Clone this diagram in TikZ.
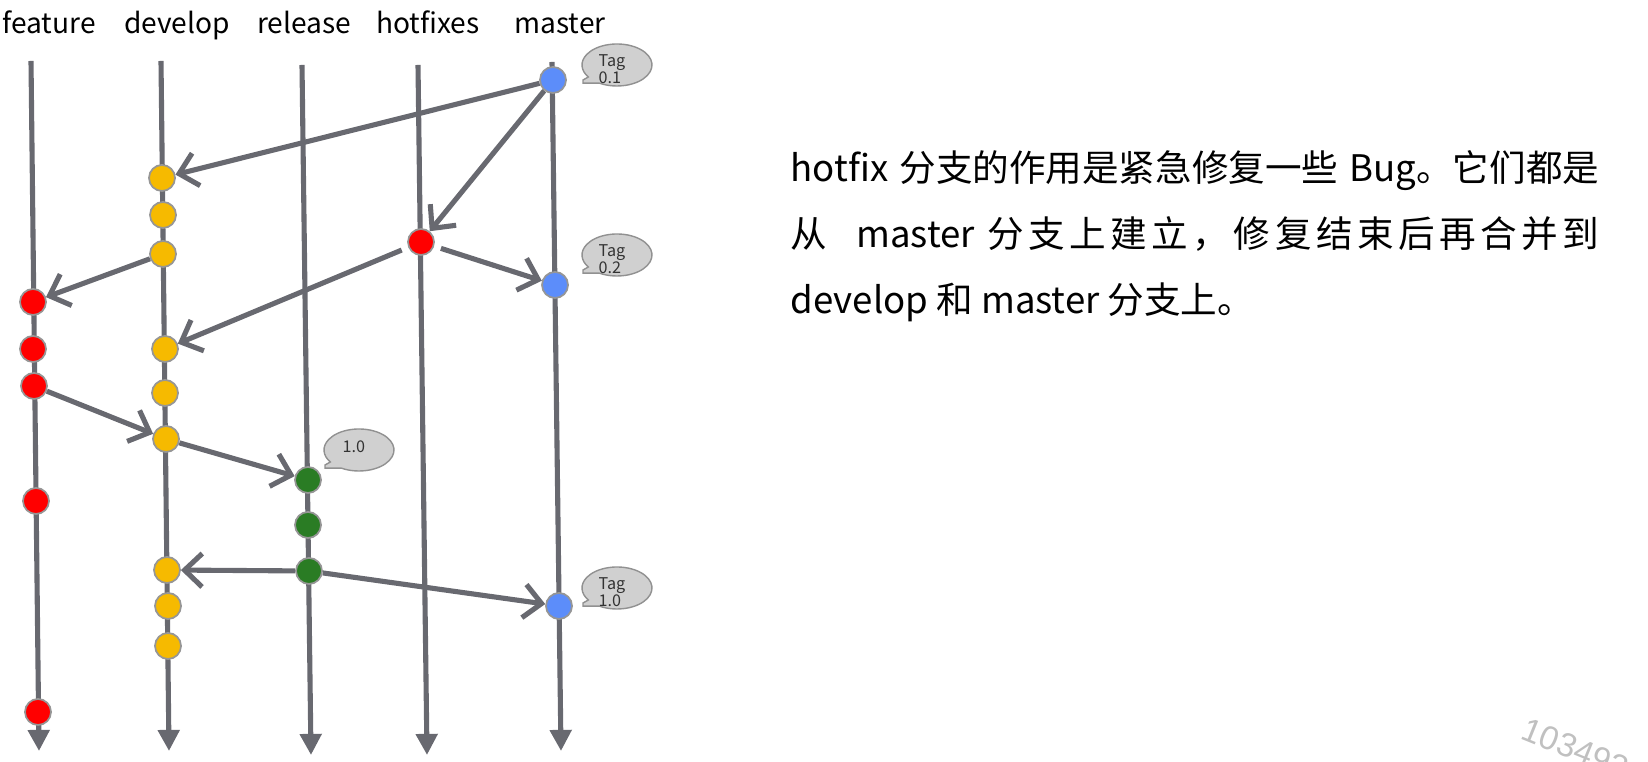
\documentclass[tikz,border=0pt]{standalone}
\usepackage{fontspec}
\setmainfont{Noto Sans CJK SC}
\newfontfamily\stampfont{Liberation Sans}
\usepackage{xcolor}
\usepackage{tikz}
\usetikzlibrary{arrows.meta, positioning}
\definecolor{branchgray}{RGB}{104,105,112}
\definecolor{ringgray}{RGB}{150,150,150}
\definecolor{tagfill}{RGB}{208,208,208}
\definecolor{tagline}{RGB}{145,145,145}
\definecolor{featred}{RGB}{255,0,0}
\definecolor{devyellow}{RGB}{246,186,0}
\definecolor{relgreen}{RGB}{42,124,36}
\definecolor{masterblue}{RGB}{92,141,250}
\definecolor{stampgray}{RGB}{192,192,192}
\tikzset{
  branch/.style     = {line width=1.45pt, branchgray,
                       -{Triangle[length=6pt, width=6pt]}},
  merge/.style      = {line width=1.45pt, branchgray,
                       -{Straight Barb[length=5pt, width=9.5pt]}},
  gap/.style        = {shorten <=2pt},
  commit/.style     = {circle, draw=ringgray, line width=0.5pt,
                       inner sep=0pt, minimum size=0.26cm},
  feat/.style       = {commit, fill=featred},
  dev/.style        = {commit, fill=devyellow},
  rel/.style        = {commit, fill=relgreen},
  mast/.style       = {commit, fill=masterblue},
  branchlabel/.style= {anchor=base, inner sep=0pt,
                       font=\fontsize{8}{10}\selectfont},
  tagshape/.style   = {fill=tagfill, draw=tagline, line width=0.4pt},
  tagtext/.style    = {anchor=west, align=left, inner sep=0pt, text=black!80,
                       font=\fontsize{4.6}{4.9}\selectfont},
  bodytext/.style   = {anchor=base west, inner sep=0pt,
                       font=\fontsize{10.4}{12}\selectfont}
}
% speech bubble of a tag, #1 = its centre
\newcommand{\tagcallout}[1]{%
  \begin{scope}[shift={#1}]
    \filldraw[tagshape] (120:35 and 21)
      arc[start angle=120, end angle=-215, x radius=35, y radius=21]
      -- (-34,15) -- (-34,18.2) -- cycle;
  \end{scope}}

\begin{document}
\begin{tikzpicture}[x=0.01cm, y=-0.01cm]
  \useasboundingbox (0,0) rectangle (1648,762);
  \clip (0,0) rectangle (1648,762);
  % branch names
  \node[branchlabel] (lfeature) at (49,34) {feature};
  \node[branchlabel] (ldevelop) at (177,34) {develop};
  \node[branchlabel] (lrelease) at (304,34) {release};
  \node[branchlabel] (lhotfixes) at (428,34) {hotfixes};
  \node[branchlabel] (lmaster) at (560,34) {master};
  % branch lines
  \coordinate (feat-top) at (31,61);   \coordinate (feat-end) at (39,751);
  \coordinate (dev-top) at (161,61);   \coordinate (dev-end) at (169,751);
  \coordinate (rel-top) at (302,65);   \coordinate (rel-end) at (311,755);
  \coordinate (hot-top) at (418,65);   \coordinate (hot-end) at (427,755);
  \coordinate (mast-top) at (552,62);  \coordinate (mast-end) at (561,751);
  \draw[branch] (feat-top) -- (feat-end);
  \draw[branch] (dev-top) -- (dev-end);
  \draw[branch] (rel-top) -- (rel-end);
  \draw[branch] (hot-top) -- (hot-end);
  \draw[branch] (mast-top) -- (mast-end);
  % commits
  \node[feat] (f1) at (33,302) {};
  \node[feat] (f2) at (33,349) {};
  \node[feat] (f3) at (34,386) {};
  \node[feat] (f4) at (36,501) {};
  \node[feat] (f5) at (38,712) {};
  \node[dev] (d1) at (162,178) {};
  \node[dev] (d2) at (163,215) {};
  \node[dev] (d3) at (163,254) {};
  \node[dev] (d4) at (165,349) {};
  \node[dev] (d5) at (165,393) {};
  \node[dev] (d6) at (166,439) {};
  \node[dev] (d7) at (167,570) {};
  \node[dev] (d8) at (168,606) {};
  \node[dev] (d9) at (168,646) {};
  \node[rel] (r1) at (308,480) {};
  \node[rel] (r2) at (308,525) {};
  \node[rel] (r3) at (309,571) {};
  \node[feat] (hf) at (421,242) {};
  \node[mast] (m1) at (553,80) {};
  \node[mast] (m2) at (555,285) {};
  \node[mast] (m3) at (559,606) {};
  % merges
  \draw[merge] (m1) -- (d1);
  \draw[merge] (m1) -- (hf);
  \draw[merge, gap] (hf) -- (m2);
  \draw[merge, gap] (hf) -- (d4);
  \draw[merge] (d3) -- (f1);
  \draw[merge] (f3) -- (d6);
  \draw[merge] (d6) -- (r1);
  \draw[merge] (r3) -- (d7);
  \draw[merge] (r3) -- (m3);
  % tags
  \tagcallout{(617,65)}
  \node[tagtext] (tag01) at (598,69) {Tag\\0.1};
  \tagcallout{(617,255)}
  \node[tagtext] (tag02) at (598,259) {Tag\\0.2};
  \tagcallout{(617,588)}
  \node[tagtext] (tag10) at (598,592) {Tag\\1.0};
  \tagcallout{(359,450)}
  \node[tagtext] (rel10) at (342,447) {1.0};
  % explanation
  \node[bodytext] (line1) at (790,182)
    {\makebox[8.08cm][s]{hotfix 分支的作用是紧急修复一些 Bug。它们都是}};
  \node[bodytext] (line2) at (790,248)
    {\hbox to 8.08cm{从\hfil\ \ \ master\hfil\ 分\hfil 支\hfil 上\hfil 建\hfil 立\hfil
      ，\hfil 修\hfil 复\hfil 结\hfil 束\hfil 后\hfil 再\hfil 合\hfil 并\hfil 到}};
  \node[bodytext] (line3) at (790,314) {develop 和 master 分支上。};
  \node[anchor=base west, inner sep=0pt, rotate=-22, text=stampgray,
        font=\stampfont\fontsize{9.5}{10}\selectfont] (stamp) at (1519,738) {103492};
\end{tikzpicture}
\end{document}
